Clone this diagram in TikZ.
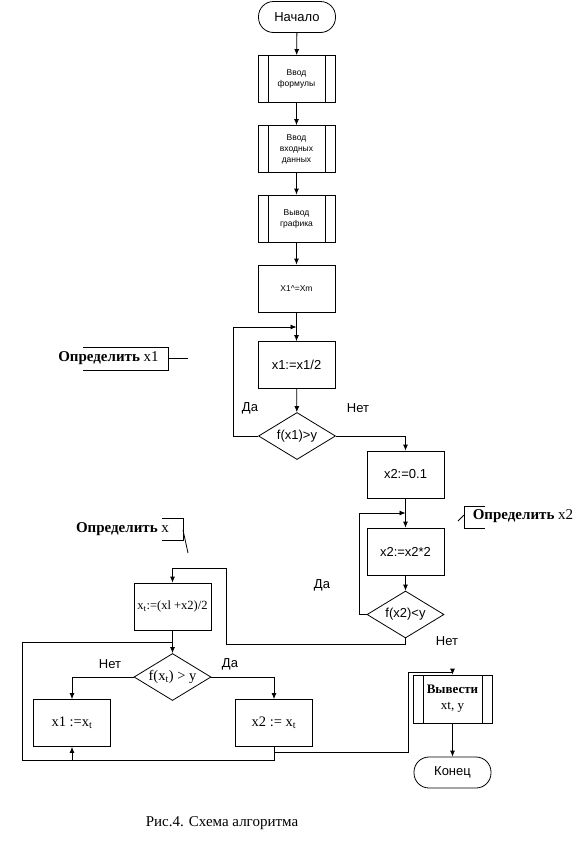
\documentclass[tikz,border=0pt]{standalone}
\usepackage{fontspec}
\setmainfont{Liberation Serif}
\newfontfamily\sansfont{Liberation Sans}
\usetikzlibrary{shapes.geometric,arrows.meta}

\begin{document}
\begin{tikzpicture}[x=1pt, y=-1pt, line width=0.8pt,
    % Estilos de los bloques del diagrama
    proc/.style={rectangle, draw, minimum width=77pt, minimum height=47pt, inner sep=1pt,
      align=center, font=\sansfont\fontsize{13}{15}\selectfont},
    small/.style={font=\sansfont\fontsize{8.5}{11}\selectfont},
    serif/.style={font=\fontsize{14.5}{16}\selectfont},
    subproc/.style={proc, path picture={
        \draw ([xshift=10pt]path picture bounding box.north west) -- ([xshift=10pt]path picture bounding box.south west);
        \draw ([xshift=-10pt]path picture bounding box.north east) -- ([xshift=-10pt]path picture bounding box.south east);}},
    term/.style={proc, rounded corners=15pt, minimum height=31pt},
    decis/.style={diamond, draw, aspect=1.64, minimum width=77pt, minimum height=47pt, inner sep=0pt,
      font=\sansfont\fontsize{13}{15}\selectfont},
    lbl/.style={font=\sansfont\fontsize{13}{15}\selectfont},
    note/.style={font=\fontsize{15}{18}\selectfont},
    arr/.style={-{Latex[length=6pt,width=5pt]}}
  ]
  \useasboundingbox (0,0) rectangle (584,857);

  % 1. Bloques de la parte superior
  \node[term] (start) at (297,17) {Начало};
  \node[subproc, small] (in1) at (296.5,79) {Ввод\\формулы};
  \node[subproc, small] (in2) at (296.5,149) {Ввод\\входных\\данных};
  \node[subproc, small] (out1) at (296.5,218.5) {Вывод\\графика};
  \node[proc, small] (init) at (296.5,288.5) {X1\textasciicircum=Xm};
  \node[proc] (half) at (296.5,365) {x1:=x1/2};
  \node[decis] (dec1) at (297,436) {f(x1)>y};

  % 2. Bloques de la derecha (x2)
  \node[proc] (set2) at (405.5,474.5) {x2:=0.1};
  \node[proc] (dbl) at (405.5,551.5) {x2:=x2*2};
  \node[decis] (dec2) at (405.5,614.5) {f(x2)<y};

  % 3. Bloques de la parte inferior
  \node[proc, font=\fontsize{12.5}{14}\selectfont] (mid) at (172.5,606.5) {x\textsubscript{t}:=(xl +x2)/2};
  \node[decis, serif] (dec3) at (172.5,677) {f(x\textsubscript{t}) > y};
  \node[proc, serif] (setx1) at (72,723) {x1 :=x\textsubscript{t}};
  \node[proc, serif] (setx2) at (274,723) {x2 := x\textsubscript{t}};
  \node[subproc, font=\fontsize{13}{16}\selectfont, minimum width=79pt, minimum height=48pt] (res) at (452.5,699) {\textbf{Вывести}\\xt, y};
  \node[term] (stop) at (452.5,772.5) {Конец};

  % 4. Puntos de los bucles
  \coordinate (j1) at (296.5,327);
  \coordinate (l1) at (233,327);
  \coordinate (j2) at (405.5,513);
  \coordinate (l2) at (359,513);
  \coordinate (c1) at (226,644);
  \coordinate (c2) at (226,568);
  \coordinate (j3) at (172.5,642);
  \coordinate (b1) at (72,760);
  \coordinate (j4) at (274,752);
  \coordinate (r1) at (408,672);

  % 5. Conexiones
  \draw[arr] (start) -- (in1);
  \draw[arr] (in1) -- (in2);
  \draw[arr] (in2) -- (out1);
  \draw[arr] (out1) -- (init);
  \draw[arr] (init) -- (half);
  \draw[arr] (half) -- (dec1);
  \draw[arr] (dec1.west) -| (l1) -- (j1);
  \draw[arr] (dec1.east) -| (set2.north);
  \draw[arr] (set2) -- (dbl);
  \draw[arr] (dbl) -- (dec2);
  \draw[arr] (dec2.west) -| (l2) -- (j2);
  \draw[arr] (dec2.south) |- (c1) -- (c2) -| (mid.north);
  \draw[arr] (mid) -- (dec3);
  \draw[arr] (dec3.west) -| (setx1.north);
  \draw[arr] (dec3.east) -| (setx2.north);
  \draw (setx2.south) |- (22,760) |- (j3);
  \draw[arr] (b1) -- (setx1.south);
  \draw[arr] (j4) -| (r1) -| (res.north);
  \draw[arr] (res) -- (stop);

  % 6. Etiquetas Да / Нет
  \node[lbl] (y1) at (250,408) {Да};
  \node[lbl] (n1) at (358,408) {Нет};
  \node[lbl] (y2) at (322,585) {Да};
  \node[lbl] (n2) at (447,641) {Нет};
  \node[lbl] (n3) at (110,664) {Нет};
  \node[lbl] (y3) at (230,664) {Да};

  % 7. Comentarios
  \node[note] (note1) at (108.5,358) {\textbf{Определить} x1};
  \draw (83,347) -- (168,347) -- (168,370) -- (83,370);
  \draw (168,358) -- (188,358);
  \node[note] (note2) at (122.5,529) {\textbf{Определить} x};
  \draw (162,518) -- (183,518) -- (183,540) -- (162,540);
  \draw (183,530) -- (188,553);
  \node[note] (note3) at (523,516) {\textbf{Определить} x2};
  \draw (485,506) -- (464,506) -- (464,528) -- (485,528);
  \draw (458,521) -- (464,515);

  % 8. Pie de figura
  \node[font=\fontsize{15}{17}\selectfont] (cap) at (222,823) {Рис.4. Схема алгоритма};
\end{tikzpicture}
\end{document}
